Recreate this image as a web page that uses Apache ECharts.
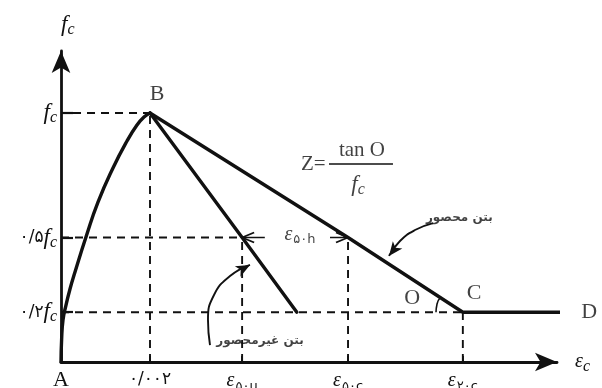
<!DOCTYPE html>
<html>
<head>
<meta charset="utf-8">
<script src="https://cdn.jsdelivr.net/npm/echarts@6/dist/echarts.min.js"></script>
<style>
  html, body { margin: 0; padding: 0; background: #ffffff; }
  #chart { width: 602px; height: 388px; }
</style>
</head>
<body>
<div id="chart"></div>
<script>
// Stress–strain model of unconfined and confined concrete (Kent–Park form)

// axis ticks
const strainTicks = [0, 0.002, 0.00407, 0.00645, 0.00903];
const strainTickLabels = ['A', '۰/۰۰۲', 'ε۵۰u', 'ε۵۰c', 'ε۲۰c'];
const stressTicks = [1, 0.5, 0.2];
const stressTickLabels = ['fc', '۰/۵fc', '۰/۲fc'];

// ascending branch A–B
const riseStrain = [0, 0.0000135, 0.0000449, 0.0001124, 0.0002022, 0.0003146, 0.0005618, 0.0008315, 0.0011685, 0.0014831, 0.0017079, 0.0018652, 0.002];
const riseStress = [0, 0.0884, 0.1687, 0.2289, 0.2932, 0.3614, 0.5020, 0.6418, 0.7791, 0.8876, 0.9518, 0.9839, 1];

// descending branches
const unconfinedStrain = [0.002, 0.00407, 0.0053];
const unconfinedStress = [1, 0.5, 0.2];
const confinedStrain = [0.002, 0.00645, 0.00903, 0.01146];
const confinedStress = [1, 0.5, 0.2, 0.2];

// dashed reference lines
const levelGuideStress = [1, 0.5, 0.2];
const levelGuideStart = [0.00027, 0, 0];
const levelGuideEnd = [0.002, 0.00407, 0.00903];
const dropGuideStrain = [0.002, 0.00407, 0.00645, 0.00903];
const dropGuideTop = [1, 0.5, 0.5, 0.2];

// ε50h span between the two branches at half stress
const spanLeftStrain = [0.00407, 0.00458];
const spanRightStrain = [0.006045, 0.00645];
const spanStress = 0.5;
const spanLabelStrain = 0.00537;

// pointer curves from the branch names
const confinedPointerStrain = [0.00836, 0.007955, 0.007618, 0.00737];
const confinedPointerStress = [0.558, 0.530, 0.486, 0.426];
const unconfinedPointerStrain = [0.003348, 0.003303, 0.003438, 0.003798, 0.004247];
const unconfinedPointerStress = [0.068, 0.169, 0.269, 0.345, 0.390];

// angle mark at C
const angleStrain = [0.008517, 0.00845, 0.008427];
const angleStress = [0.257, 0.233, 0.2];

// point letters
const letterText = ['B', 'C', 'D', 'O'];
const letterStrain = [0.002157, 0.00928, 0.01187, 0.00789];
const letterStress = [1.075, 0.275, 0.2, 0.255];

// slope formula pieces
const formulaBarStrain = [0.006022, 0.00746];
const formulaBarStress = 0.795;

const ink = '#111111';
const serif = 'Liberation Serif, DejaVu Serif, serif';
const persian = 'DejaVu Sans, Noto Sans, sans-serif';

const zip = (xs, ys) => xs.map((x, i) => [x, Array.isArray(ys) ? ys[i] : ys]);

const chart = echarts.init(document.getElementById('chart'), null, { renderer: 'canvas' });

const rich = {
  e: { fontFamily: serif, fontSize: 20, fontStyle: 'italic', color: ink, lineHeight: 22, verticalAlign: 'middle' },
  s: { fontFamily: persian, fontSize: 13, color: ink, lineHeight: 24, verticalAlign: 'bottom', padding: [0, 0, 0, 1] },
  n: { fontFamily: persian, fontSize: 17, color: ink, lineHeight: 22, verticalAlign: 'middle' },
  f: { fontFamily: serif, fontSize: 23, fontStyle: 'italic', color: ink, lineHeight: 24, verticalAlign: 'middle' },
  c: { fontFamily: serif, fontSize: 16, fontStyle: 'italic', color: ink, lineHeight: 26, verticalAlign: 'bottom' },
  big: { fontFamily: serif, fontSize: 22, color: ink, lineHeight: 22 }
};

function strainLabel(text) {
  if (text.charAt(0) === 'ε') return '{e|ε}{s|' + text.slice(1) + '}';
  if (text === 'A') return '{big|A}';
  return '{n|' + text + '}';
}
function stressLabel(text) {
  const head = text.slice(0, text.length - 2);
  return (head ? '{n|' + head + '}' : '') + '{f|f}{c|c}';
}

const series = [];

// dashed guides
levelGuideStress.forEach((s, i) => {
  series.push({
    type: 'line', data: [[levelGuideStart[i], s], [levelGuideEnd[i], s]],
    symbol: 'none', lineStyle: { color: ink, width: 1.9, type: [8, 6] }, z: 2
  });
});
dropGuideStrain.forEach((x, i) => {
  series.push({
    type: 'line', data: [[x, 0], [x, dropGuideTop[i]]],
    symbol: 'none', lineStyle: { color: ink, width: 1.9, type: [8, 6] }, z: 2
  });
});

// main curves
const curveStyle = { color: ink, width: 3.4, cap: 'round', join: 'round' };
series.push({ type: 'line', data: zip(riseStrain, riseStress), smooth: 0.5, symbol: 'none', lineStyle: curveStyle, z: 5 });
series.push({ type: 'line', data: zip(unconfinedStrain, unconfinedStress), symbol: 'none', lineStyle: curveStyle, z: 5 });
series.push({ type: 'line', data: zip(confinedStrain, confinedStress), symbol: 'none', lineStyle: curveStyle, z: 5, clip: false });

// ε50h span arrows (open chevrons)
const chevronStyle = { color: 'rgba(0,0,0,0)', borderColor: ink, borderWidth: 1.7 };
series.push({
  type: 'line', lineStyle: { color: ink, width: 1.7 }, z: 4,
  data: [
    { value: [spanLeftStrain[0], spanStress], symbol: 'path://M12,0 L0,5 L12,10', symbolSize: [12, 10], symbolOffset: [6, 0], itemStyle: chevronStyle },
    { value: [spanLeftStrain[1], spanStress], symbol: 'none' }
  ]
});
series.push({
  type: 'line', lineStyle: { color: ink, width: 1.7 }, z: 4,
  data: [
    { value: [spanRightStrain[0], spanStress], symbol: 'none' },
    { value: [spanRightStrain[1], spanStress], symbol: 'path://M0,0 L12,5 L0,10', symbolSize: [12, 10], symbolOffset: [-6, 0], itemStyle: chevronStyle }
  ]
});

// pointers
function pointer(xs, ys, rot) {
  const data = zip(xs, ys).map((p, i) => i === xs.length - 1
    ? { value: p, symbol: 'arrow', symbolSize: [9, 14], symbolRotate: rot, itemStyle: { color: ink } }
    : { value: p, symbol: 'none' });
  return { type: 'line', data, smooth: 0.5, lineStyle: { color: ink, width: 1.9 }, z: 4 };
}
series.push(pointer(confinedPointerStrain, confinedPointerStress, 142));
series.push(pointer(unconfinedPointerStrain, unconfinedPointerStress, -62));

// angle mark
series.push({ type: 'line', data: zip(angleStrain, angleStress), smooth: 0.6, symbol: 'none', lineStyle: { color: ink, width: 1.6 }, z: 4 });

// formula bar
series.push({ type: 'line', data: zip(formulaBarStrain, formulaBarStress), symbol: 'none', lineStyle: { color: ink, width: 1.5 }, z: 4 });

// text annotations
const textItems = [];
letterText.forEach((t, i) => {
  textItems.push({
    value: [letterStrain[i], letterStress[i]],
    label: { formatter: t, fontFamily: serif, fontSize: 22, color: ink }
  });
});
textItems.push({ value: [0.00567, 0.795], label: { formatter: 'Z=', fontFamily: serif, fontSize: 21, color: ink } });
textItems.push({ value: [0.006764, 0.848], label: { formatter: 'tan O', fontFamily: serif, fontSize: 21, color: ink } });
textItems.push({ value: [0.006674, 0.712], label: { formatter: '{f|f}{c|c}', rich } });
textItems.push({ value: [spanLabelStrain, spanStress + 0.012], label: { formatter: '{e|ε}{s|۵۰h}', rich } });
textItems.push({ value: [0.00895, 0.578], label: { formatter: 'بتن محصور', fontFamily: persian, fontSize: 12, fontWeight: 'bold', color: ink } });
textItems.push({ value: [0.004472, 0.086], label: { formatter: 'بتن غیرمحصور', fontFamily: persian, fontSize: 12, fontWeight: 'bold', color: ink } });
series.push({
  type: 'scatter', symbolSize: 1, itemStyle: { color: 'rgba(0,0,0,0)' }, z: 6,
  label: { show: true, position: 'inside', align: 'center', verticalAlign: 'middle' },
  data: textItems, clip: false
});

chart.setOption({
  animation: false,
  backgroundColor: '#ffffff',
  grid: { left: 61, top: 51, width: 496, height: 311, outerBoundsMode: 'none', containLabel: false },
  xAxis: {
    type: 'value', min: 0, max: 0.011146,
    name: '{e|ε}{c|c}', nameLocation: 'end', nameGap: 18,
    nameTextStyle: { rich, align: 'left', verticalAlign: 'middle' },
    axisLine: { show: true, symbol: ['none', 'arrow'], symbolSize: [14, 22], lineStyle: { color: ink, width: 2.8 } },
    axisTick: { show: true, inside: true, length: 6, customValues: strainTicks.slice(1), lineStyle: { color: ink, width: 1.9 } },
    axisLabel: {
      show: true, margin: 7, customValues: strainTicks,
      formatter: v => strainLabel(strainTickLabels[strainTicks.indexOf(v)] || ''),
      rich, hideOverlap: false
    },
    splitLine: { show: false }
  },
  yAxis: {
    type: 'value', min: 0, max: 1.249,
    name: '{f|f}{c|c}', nameLocation: 'end', nameGap: 13,
    nameTextStyle: { rich, align: 'left', padding: [0, 0, 0, 0] },
    axisLine: { show: true, symbol: ['none', 'arrow'], symbolSize: [14, 22], lineStyle: { color: ink, width: 2.8 } },
    axisTick: { show: true, inside: true, length: 12, customValues: stressTicks, lineStyle: { color: ink, width: 2.2 } },
    axisLabel: {
      show: true, margin: 4, customValues: stressTicks,
      formatter: v => stressLabel(stressTickLabels[stressTicks.indexOf(v)] || ''),
      rich
    },
    splitLine: { show: false }
  },
  series: series.map(s => Object.assign({ silent: true, animation: false }, s))
});
</script>
</body>
</html>
